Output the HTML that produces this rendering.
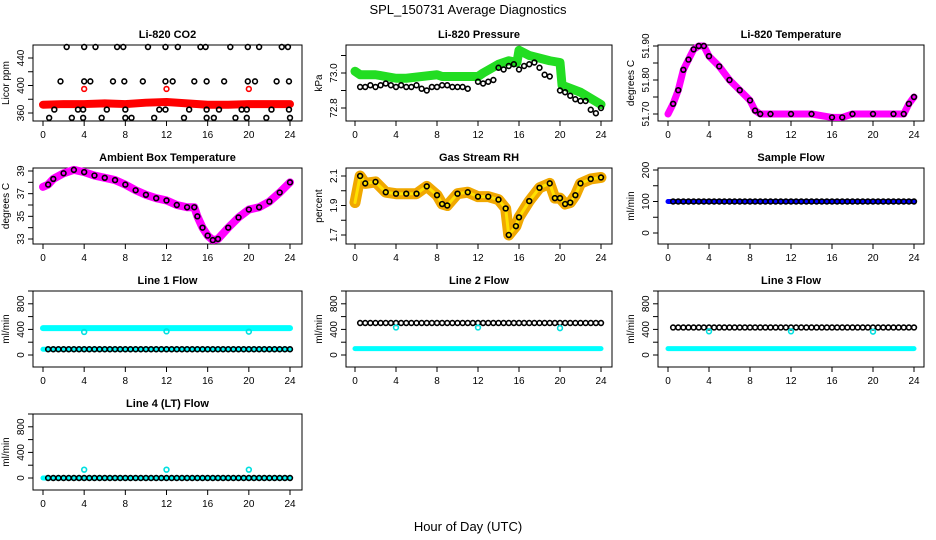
<!DOCTYPE html>
<html><head><meta charset="utf-8"><style>
body{margin:0;background:#fff}
svg{display:block;font-family:"Liberation Sans",sans-serif}
</style></head><body>
<svg id="c" width="936" height="540" viewBox="0 0 936 540">
<text x="468" y="14" text-anchor="middle" font-size="13">SPL_150731  Average Diagnostics</text>
<text x="468" y="531" text-anchor="middle" font-size="13">Hour of Day (UTC)</text>
</svg>
<script>
// ---- data ----
const xTicks = [0,4,8,12,16,20,24];
const co2BandX = [0,2,4,6,8,10,12,14,16,18,20,22,24];
const co2BandY = [372,373,373,374,373,375,376,374,372,372,373,373,373];
const co2HiX = [2.3,4.0,5.1,7.2,7.8,10.2,11.9,13.1,15.3,15.8,18.2,19.9,21.0,23.2,23.8];
const co2MidX = [1.7,4.0,4.6,6.8,7.9,9.7,11.9,12.6,14.7,15.9,17.6,19.9,20.6,22.7,23.9];
const co2LoX = [1.1,3.4,3.9,6.2,8.0,11.3,11.9,14.2,15.9,17.1,19.3,19.8,22.2,23.9];
const co2LowestX = [0.6,2.8,3.9,5.7,8.0,8.6,10.8,13.7,15.9,16.6,18.7,19.8,21.7,24.0];
const co2Levels = [456,406,365,353];
const co2RedX = [4,12,20];
const co2RedY = [395,395,395];

const presBandX = [0,0.5,2,4,5,8,8.5,12,12.5,14,15,15.8,16,17,19,20,20.2,22,24];
const presBandY = [73.01,72.99,72.99,72.97,72.97,72.99,72.98,72.98,73.0,73.05,73.07,73.06,73.13,73.1,73.07,73.06,72.93,72.89,72.82];
const presPtX = [0.5,1,1.5,2,2.5,3,3.5,4,4.5,5,5.5,6,6.5,7,7.5,8,8.5,9,9.5,10,10.5,11,12,12.5,13,13.5,14,14.5,15,15.5,16,16.5,17,17.5,18,18.5,19,20,20.5,21,21.5,22,22.5,23,23.5,24];
const presPtY = [72.92,72.92,72.93,72.92,72.93,72.94,72.93,72.92,72.93,72.92,72.92,72.93,72.91,72.90,72.92,72.92,72.93,72.93,72.92,72.92,72.92,72.91,72.95,72.94,72.95,72.96,73.03,73.02,73.04,73.05,73.02,73.04,73.05,73.06,73.03,72.99,72.98,72.90,72.89,72.87,72.85,72.84,72.84,72.79,72.77,72.80];

const tempX = [0,0.5,1,1.5,2,2.5,3,3.5,4,5,6,7,8,8.5,9,10,12,14,16,17,18,20,22,23,23.5,24];
const tempY = [51.70,51.73,51.77,51.83,51.86,51.89,51.90,51.90,51.87,51.84,51.80,51.77,51.74,51.71,51.70,51.70,51.70,51.70,51.69,51.69,51.70,51.70,51.70,51.70,51.73,51.75];

const ambX = [0,0.5,1,2,3,4,5,6,7,8,9,10,11,12,13,14,14.7,15,15.5,16,16.5,17,18,19,20,21,22,23,24];
const ambY = [37.6,37.8,38.3,38.8,39.1,38.9,38.6,38.4,38.2,37.8,37.3,36.9,36.6,36.4,36.0,35.8,35.8,35.0,34.0,33.3,32.9,33.0,34.0,34.9,35.6,35.8,36.3,37.1,38.0];

const rhX = [0,0.5,1,2,3,4,5,6,7,8,8.5,9,10,11,12,13,14,14.7,15,15.7,16,17,18,19,19.5,20,20.5,21,21.5,22,23,24];
const rhY = [1.92,2.1,2.05,2.06,1.99,1.98,1.98,1.98,2.03,1.97,1.91,1.9,1.98,1.99,1.96,1.96,1.94,1.88,1.70,1.76,1.82,1.93,2.02,2.05,1.95,1.95,1.91,1.92,1.97,2.05,2.08,2.09];

const flowX = [0,24];
const sampleFlow = [100,100];
const line1Cyan = [420,420];
const line1Black = [90,90];
const line2Black = [500,500];
const line2Cyan = [100,100];
const line3Black = [430,430];
const line3Cyan = [100,100];
const line4Cyan = [0,0];
const line4Black = [0,0];
const outlierX = [4,12,20];
const line1Out = [360,370,365];
const line2Out = [430,430,420];
const line3Out = [370,370,365];
const line4Out = [130,130,130];

// ---- layout ----
const NS='http://www.w3.org/2000/svg';
const svg=document.getElementById('c');
const cols=[{l:33,r:302,x0:43,x24:290},{l:346,r:612,x0:355,x24:601},{l:658,r:924,x0:668,x24:914}];
const rows=[45,168,291,414];
function mk(tag,attrs,parent){const e=document.createElementNS(NS,tag);for(const k in attrs)e.setAttribute(k,attrs[k]);(parent||svg).appendChild(e);return e;}

function panel(o){
  const c=cols[o.col], top=rows[o.row], bot=top+76;
  const g=mk('g',{});
  
  
  const X=h=>c.x0+(c.x24-c.x0)*h/24;
  const Y=v=>o.py0+(o.py1-o.py0)*(v-o.v0)/(o.v1-o.v0)+top;
  if(o.box){mk('rect',{x:c.l,y:top,width:c.r-c.l,height:bot-top,fill:'none',stroke:'#000','stroke-width':1},g);}
  else{mk('line',{x1:c.l,y1:top,x2:c.l,y2:bot,stroke:'#000'},g);mk('line',{x1:c.l,y1:bot,x2:c.r,y2:bot,stroke:'#000'},g);}
  const t=mk('text',{x:(c.l+c.r)/2,y:top-7,'text-anchor':'middle','font-size':11,'font-weight':'bold'},g);
  t.textContent=o.title;
  
  
  xTicks.forEach(h=>{
    mk('line',{x1:X(h),y1:bot,x2:X(h),y2:bot+5,stroke:'#000'},g);
    const tx=mk('text',{x:X(h),y:bot+17,'text-anchor':'middle','font-size':10},g);
    tx.textContent=h;
    
    
  });
  o.yt.forEach(v=>{
    const y=Y(v);
    mk('line',{x1:c.l-5,y1:y,x2:c.l,y2:y,stroke:'#000'},g);
  });
  o.yl.forEach(v=>{
    const y=Y(v),xx=c.l-9;
    const tx=mk('text',{x:xx,y:y,'text-anchor':'middle','font-size':10,transform:`rotate(-90 ${xx} ${y})`},g);
    tx.textContent=o.fmt?o.fmt(v):v;
    
    
  });
  const yx=c.l-24,ym=(top+bot)/2;
  const yt=mk('text',{x:yx,y:ym,'text-anchor':'middle','font-size':10,transform:`rotate(-90 ${yx} ${ym})`},g);
  yt.textContent=o.ylab;
  
  
  o.draw(g,X,Y);
}
function band(g,xs,ys,X,Y,col,w,name){
  const p=mk('polyline',{points:xs.map((x,i)=>X(x)+','+Y(ys[i])).join(' '),fill:'none',stroke:col,'stroke-width':w,'stroke-linejoin':'round','stroke-linecap':'round'},g);
  
  
}
function pts(g,xs,ys,X,Y,col,name,r){
  xs.forEach((x,i)=>{
    const e=mk('circle',{cx:X(x),cy:Y(ys[i]),r:r||2.4,fill:'none',stroke:col,'stroke-width':1.6},g);
    
    
  });
}
function flowPts(g,X,Y,vals,col,name,step){
  const xs=[],ys=[];
  for(let h=0.5;h<=24;h+=step){xs.push(h);ys.push(vals[0]+(vals[1]-vals[0])*h/24);}
  pts(g,xs,ys,X,Y,col,name);
}

panel({name:'co2-panel',col:0,row:0,box:true,title:'Li-820 CO2',ylab:'Licor ppm',v0:360,v1:440,py0:68,py1:13,
  yt:[360,380,400,420,440],yl:[360,400,440],
  draw:(g,X,Y)=>{
    band(g,co2BandX,co2BandY,X,Y,'#ff0000',8,'co2-red-band');
    [co2HiX,co2MidX,co2LoX,co2LowestX].forEach((xs,k)=>pts(g,xs,xs.map(()=>co2Levels[k]),X,Y,'#000','co2-point'));
    pts(g,co2RedX,co2RedY,X,Y,'#ff0000','co2-red-outlier');
  }});
panel({name:'pressure-panel',col:1,row:0,box:true,title:'Li-820 Pressure',ylab:'kPa',v0:72.8,v1:73.0,py0:63,py1:28,
  yt:[72.8,72.9,73.0,73.1],yl:[72.8,73.0],fmt:v=>v.toFixed(1),
  draw:(g,X,Y)=>{
    band(g,presBandX,presBandY,X,Y,'#22dd22',9,'pressure-green-band');
    pts(g,presPtX,presPtY,X,Y,'#000','pressure-point');
  }});
panel({name:'li820-temp-panel',col:2,row:0,box:true,title:'Li-820 Temperature',ylab:'degrees C',v0:51.70,v1:51.90,py0:69,py1:1,
  yt:[51.70,51.75,51.80,51.85,51.90],yl:[51.70,51.80,51.90],fmt:v=>v.toFixed(2),
  draw:(g,X,Y)=>{
    band(g,tempX,tempY,X,Y,'#ff00ff',7,'temp-magenta-band');
    pts(g,tempX.slice(1),tempY.slice(1),X,Y,'#000','temp-point');
  }});
panel({name:'ambient-temp-panel',col:0,row:1,box:true,title:'Ambient Box Temperature',ylab:'degrees C',v0:33,v1:39,py0:71,py1:3,
  yt:[33,34,35,36,37,38,39],yl:[33,35,37,39],
  draw:(g,X,Y)=>{
    band(g,ambX,ambY,X,Y,'#ff00ff',8,'ambient-magenta-band');
    pts(g,ambX.slice(1),ambY.slice(1),X,Y,'#000','ambient-point');
  }});
panel({name:'rh-panel',col:1,row:1,box:true,title:'Gas Stream RH',ylab:'percent',v0:1.7,v1:2.1,py0:67,py1:8,
  yt:[1.7,1.8,1.9,2.0,2.1],yl:[1.7,1.9,2.1],fmt:v=>v.toFixed(1),
  draw:(g,X,Y)=>{
    band(g,rhX,rhY,X,Y,'#f0a800',11,'rh-orange-band');
    band(g,rhX,rhY,X,Y,'#ffe000',3,'rh-yellow-core');
    pts(g,rhX.slice(1),rhY.slice(1),X,Y,'#000','rh-point');
  }});
panel({name:'sample-flow-panel',col:2,row:1,box:true,title:'Sample Flow',ylab:'ml/min',v0:0,v1:200,py0:65,py1:2,
  yt:[0,50,100,150,200],yl:[0,100,200],
  draw:(g,X,Y)=>{
    band(g,flowX,sampleFlow,X,Y,'#0000ff',5,'sample-flow-blue');
    flowPts(g,X,Y,sampleFlow,'#000','sample-flow-point',0.5);
  }});
const flowCfg={v0:0,v1:1000,py0:64,py1:0,yt:[0,200,400,600,800,1000],yl:[0,400,800],ylab:'ml/min'};
panel(Object.assign({name:'line1-flow-panel',col:0,row:2,box:true,title:'Line 1 Flow',
  draw:(g,X,Y)=>{
    band(g,flowX,line1Cyan,X,Y,'#00ffff',6,'line1-cyan');
    band(g,flowX,line1Black,X,Y,'#00ffff',5,'line1-cyan-low');
    flowPts(g,X,Y,line1Black,'#000','line1-point',0.5);
    pts(g,outlierX,line1Out,X,Y,'#00e0e0','line1-outlier');
  }},flowCfg));
panel(Object.assign({name:'line2-flow-panel',col:1,row:2,box:true,title:'Line 2 Flow',
  draw:(g,X,Y)=>{
    band(g,flowX,line2Cyan,X,Y,'#00ffff',5,'line2-cyan');
    flowPts(g,X,Y,line2Black,'#000','line2-point',0.5);
    pts(g,outlierX,line2Out,X,Y,'#00e0e0','line2-outlier');
  }},flowCfg));
panel(Object.assign({name:'line3-flow-panel',col:2,row:2,box:true,title:'Line 3 Flow',
  draw:(g,X,Y)=>{
    band(g,flowX,line3Cyan,X,Y,'#00ffff',5,'line3-cyan');
    flowPts(g,X,Y,line3Black,'#000','line3-point',0.5);
    pts(g,outlierX,line3Out,X,Y,'#00e0e0','line3-outlier');
  }},flowCfg));
panel(Object.assign({name:'line4-flow-panel',col:0,row:3,box:true,title:'Line 4 (LT) Flow',
  draw:(g,X,Y)=>{
    band(g,flowX,line4Cyan,X,Y,'#00ffff',5,'line4-cyan');
    flowPts(g,X,Y,line4Black,'#000','line4-point',0.5);
    pts(g,outlierX,line4Out,X,Y,'#00e0e0','line4-outlier');
  }},flowCfg));
</script>
</body></html>
